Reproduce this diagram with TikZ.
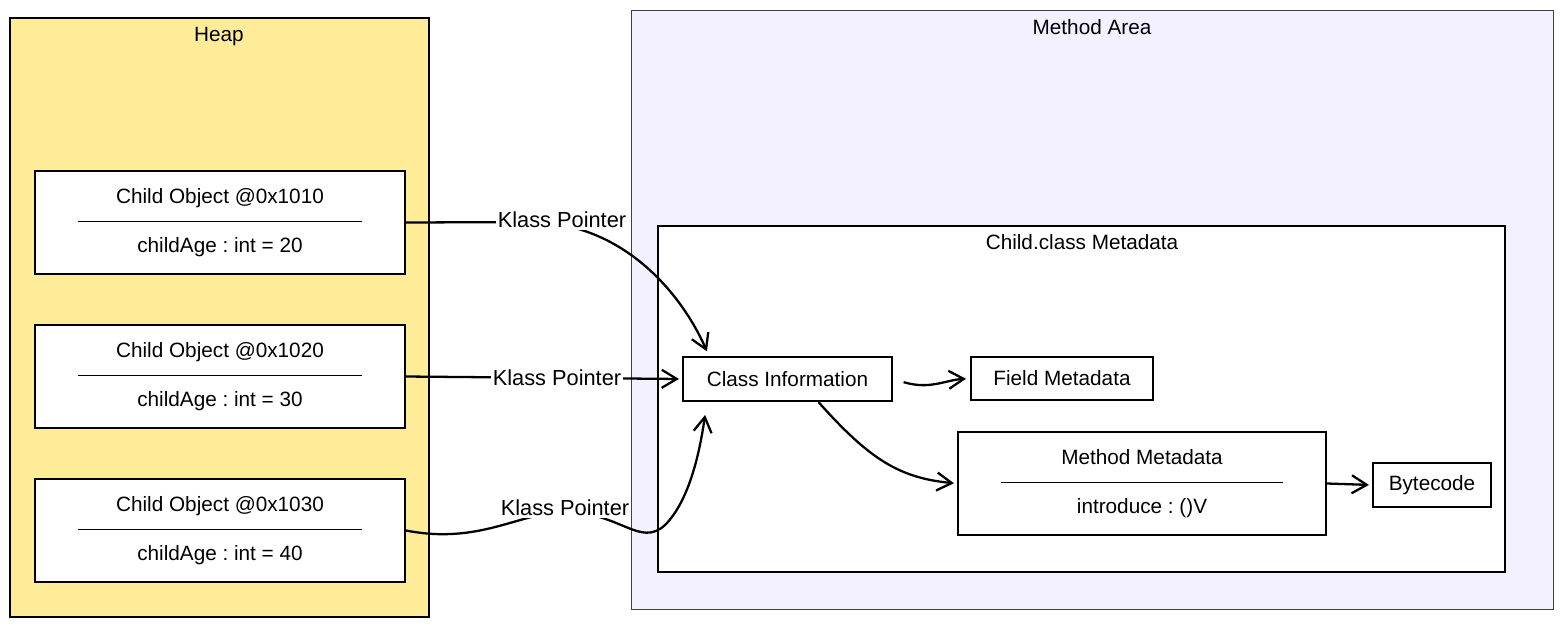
\documentclass[tikz,border=0pt]{standalone}
\usepackage{fontspec}
\setmainfont{Liberation Sans}
\usepackage{xcolor}
\usepackage{tikz}
\usetikzlibrary{arrows.meta,positioning,calc}
\frenchspacing

\definecolor{heapfill}{HTML}{FFEC99}
\definecolor{areafill}{HTML}{F3F0FF}

\begin{document}
\begin{tikzpicture}[x=0.02cm,y=-0.02cm,
  region/.style={draw,line width=1.2pt,inner sep=0pt},
  box/.style={draw,line width=1.2pt,fill=white,inner sep=0pt,align=center,
    font=\fontsize{11.8pt}{14pt}\selectfont},
  ttl/.style={font=\fontsize{11.8pt}{13pt}\selectfont},
  lab/.style={fill=white,inner sep=1pt,font=\fontsize{12.4pt}{13pt}\selectfont},
  rx/.style={-{Straight Barb[length=3mm,width=3.6mm]},line width=1.3pt}]
  \useasboundingbox (0,0) rectangle (1564,627);
  % memory regions
  \node[region,fill=heapfill,minimum width=8.38cm,minimum height=11.98cm] (heap) at (219.5,317.5) {};
  \node[region,fill=areafill,draw=black!75,line width=0.6pt,minimum width=18.46cm,minimum height=12cm] (marea) at (1092.5,310) {};
  \node[region,fill=white,minimum width=16.94cm,minimum height=6.92cm] (meta) at (1081.5,399) {};
  \node[ttl] (heapttl) at (219,37) {Heap};
  \node[ttl] (mareattl) at (1092,27) {Method Area};
  \node[ttl] (metattl) at (1082,242) {Child.class Metadata};
  % heap objects
  \node[box,minimum width=7.4cm,minimum height=2.06cm] (obj1) at (220,222.5)
    {Child Object @0x1010\\\rule[3.5pt]{5.68cm}{0.6pt}\\childAge : int = 20};
  \node[box,minimum width=7.4cm,minimum height=2.06cm] (obj2) at (220,376.5)
    {Child Object @0x1020\\\rule[3.5pt]{5.68cm}{0.6pt}\\childAge : int = 30};
  \node[box,minimum width=7.4cm,minimum height=2.06cm] (obj3) at (220,530.5)
    {Child Object @0x1030\\\rule[3.5pt]{5.68cm}{0.6pt}\\childAge : int = 40};
  % class metadata
  \node[box,minimum width=4.18cm,minimum height=0.88cm] (cinfo) at (787.5,379) {Class Information};
  \node[box,minimum width=3.64cm,minimum height=0.86cm] (fmeta) at (1062,378.5) {Field Metadata};
  \node[box,minimum width=7.36cm,minimum height=2.06cm] (mmeta) at (1142,483.5)
    {Method Metadata\\\rule[3.5pt]{5.66cm}{0.6pt}\\introduce : ()V};
  \node[box,minimum width=2.36cm,minimum height=0.88cm] (bcode) at (1432,485) {Bytecode};
  % klass pointers
  \draw[rx,shorten >=0.1cm] (obj1.east) -- (530,222) .. controls (620,222) and (680,290) .. ([xshift=0.54cm]cinfo.north west);
  \draw[rx,shorten >=0.06cm] (obj2.east) -- (cinfo.west);
  \draw[rx,shorten >=0.26cm] (obj3.east) .. controls (480,545) and (520,512) .. (565,512)
    .. controls (620,512) and (640,548) .. (665,525)
    .. controls (690,500) and (700,450) .. ([xshift=0.5cm]cinfo.south west);
  \node[lab] (kp1) at (562,220) {Klass Pointer};
  \node[lab] (kp2) at (557,378) {Klass Pointer};
  \node[lab] (kp3) at (565,508) {Klass Pointer};
  % inside metadata
  \draw[rx,shorten <=0.22cm,shorten >=0.08cm] (cinfo.east) .. controls (930,390) and (945,380) .. (fmeta.west);
  \draw[rx,shorten >=0.06cm] ([xshift=0.62cm]cinfo.south) .. controls (870,460) and (900,478) .. (mmeta.west);
  \draw[rx,shorten >=0.06cm] (mmeta.east) -- (bcode.west);
\end{tikzpicture}
\end{document}
